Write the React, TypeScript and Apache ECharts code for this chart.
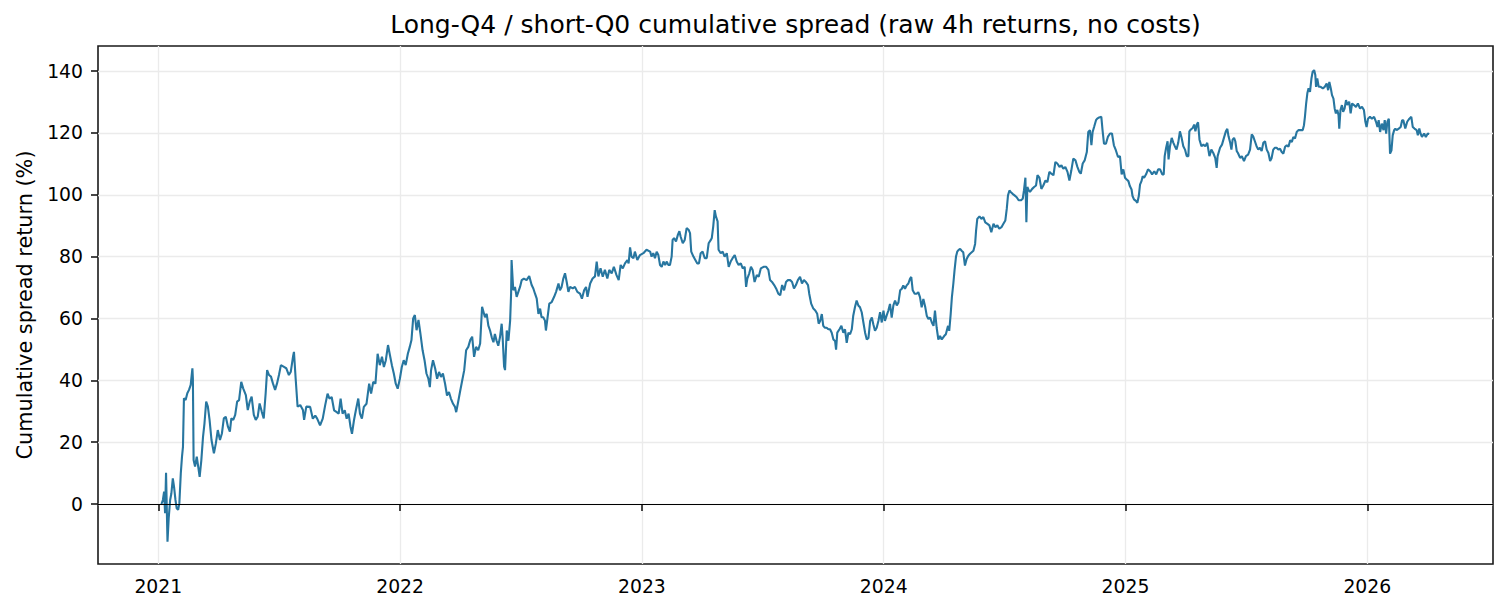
import React, { useEffect, useRef } from "react";
import * as echarts from "echarts";

const TITLE = "Long-Q4 / short-Q0 cumulative spread (raw 4h returns, no costs)";
const Y_NAME = "Cumulative spread return (%)";
const yearTicks = [2021, 2022, 2023, 2024, 2025, 2026];
const valueTicks = [0, 20, 40, 60, 80, 100, 120, 140];

// decimal year of each sampled point
const years = [
  2021.013, 2021.019, 2021.024, 2021.028, 2021.032, 2021.038, 2021.043, 2021.049, 2021.054, 2021.060,
  2021.065, 2021.071, 2021.076, 2021.082, 2021.087, 2021.093, 2021.098, 2021.102, 2021.106, 2021.113,
  2021.120, 2021.127, 2021.134, 2021.141, 2021.143, 2021.146, 2021.152, 2021.159, 2021.165, 2021.171,
  2021.178, 2021.185, 2021.191, 2021.198, 2021.205, 2021.212, 2021.220, 2021.230, 2021.238, 2021.246,
  2021.255, 2021.263, 2021.271, 2021.279, 2021.288, 2021.296, 2021.302, 2021.310, 2021.318, 2021.326,
  2021.334, 2021.343, 2021.351, 2021.362, 2021.370, 2021.378, 2021.386, 2021.395, 2021.403, 2021.411,
  2021.419, 2021.428, 2021.436, 2021.444, 2021.450, 2021.458, 2021.466, 2021.474, 2021.483, 2021.491,
  2021.499, 2021.507, 2021.518, 2021.529, 2021.540, 2021.548, 2021.557, 2021.561, 2021.568, 2021.576,
  2021.587, 2021.598, 2021.603, 2021.612,
  2021.628, 2021.639, 2021.649, 2021.657, 2021.669, 2021.680, 2021.690, 2021.700, 2021.708, 2021.717,
  2021.727, 2021.738, 2021.746, 2021.754, 2021.762, 2021.771, 2021.779, 2021.787, 2021.795, 2021.801,
  2021.809, 2021.817, 2021.827, 2021.834, 2021.842, 2021.850, 2021.861, 2021.872, 2021.880, 2021.889,
  2021.898, 2021.907, 2021.916, 2021.925, 2021.933, 2021.941, 2021.950, 2021.958, 2021.966, 2021.974,
  2021.982, 2021.990, 2021.999, 2022.007, 2022.015, 2022.023, 2022.032, 2022.040, 2022.047, 2022.054,
  2022.061, 2022.068, 2022.076, 2022.084, 2022.093, 2022.101, 2022.109, 2022.117, 2022.123, 2022.128,
  2022.136, 2022.145, 2022.153, 2022.161, 2022.169, 2022.177, 2022.186, 2022.194, 2022.202, 2022.210,
  2022.219, 2022.227, 2022.232, 2022.240, 2022.249, 2022.257, 2022.265, 2022.273, 2022.282, 2022.290,
  2022.298, 2022.306, 2022.314, 2022.323, 2022.331, 2022.339,
  2022.351, 2022.358, 2022.365, 2022.372, 2022.379, 2022.386, 2022.392, 2022.399, 2022.406, 2022.413,
  2022.420, 2022.424, 2022.430, 2022.434, 2022.441, 2022.448, 2022.455, 2022.459, 2022.461, 2022.464,
  2022.468, 2022.475, 2022.482, 2022.489, 2022.496, 2022.503, 2022.512, 2022.523, 2022.534, 2022.544,
  2022.551, 2022.558, 2022.565, 2022.572, 2022.579, 2022.585, 2022.592, 2022.599, 2022.603, 2022.610,
  2022.617, 2022.627, 2022.637, 2022.645, 2022.655, 2022.661, 2022.668, 2022.675, 2022.682, 2022.689,
  2022.696, 2022.703, 2022.714, 2022.723, 2022.733, 2022.744, 2022.752, 2022.761, 2022.769, 2022.775,
  2022.786, 2022.796, 2022.806, 2022.813, 2022.820, 2022.829, 2022.838, 2022.847, 2022.857, 2022.865,
  2022.875, 2022.884, 2022.895, 2022.904, 2022.912, 2022.921, 2022.930, 2022.940, 2022.945, 2022.951,
  2022.957, 2022.965, 2022.971, 2022.981, 2022.992, 2023.006, 2023.019,
  2023.034, 2023.040, 2023.047, 2023.054, 2023.061, 2023.068, 2023.075, 2023.082, 2023.089, 2023.096,
  2023.103, 2023.109, 2023.116, 2023.123, 2023.127, 2023.133, 2023.141, 2023.149, 2023.155, 2023.160,
  2023.169, 2023.177, 2023.185, 2023.193, 2023.199, 2023.204, 2023.213, 2023.221, 2023.229, 2023.236,
  2023.243, 2023.251, 2023.260, 2023.268, 2023.276, 2023.285, 2023.289, 2023.295, 2023.301, 2023.306,
  2023.313, 2023.317, 2023.326, 2023.334, 2023.342, 2023.351, 2023.359, 2023.367, 2023.375, 2023.384,
  2023.392, 2023.400, 2023.409, 2023.417, 2023.425, 2023.431, 2023.436, 2023.444, 2023.451, 2023.458,
  2023.466, 2023.475, 2023.483, 2023.492, 2023.503, 2023.514, 2023.523, 2023.530, 2023.538, 2023.547,
  2023.555, 2023.564, 2023.572, 2023.580, 2023.588, 2023.596, 2023.604, 2023.613, 2023.621, 2023.629,
  2023.637, 2023.645, 2023.654, 2023.662, 2023.670, 2023.678, 2023.687, 2023.692, 2023.700, 2023.709,
  2023.717, 2023.725, 2023.731,
  2023.737, 2023.744, 2023.750, 2023.757, 2023.764, 2023.771, 2023.778, 2023.785, 2023.792, 2023.799,
  2023.803, 2023.808, 2023.817, 2023.825, 2023.833, 2023.840, 2023.847, 2023.854, 2023.861, 2023.868,
  2023.874, 2023.881, 2023.888, 2023.895, 2023.902, 2023.909, 2023.916, 2023.923, 2023.930, 2023.937,
  2023.944, 2023.951, 2023.957, 2023.964, 2023.971, 2023.978, 2023.985, 2023.992, 2023.999, 2024.005,
  2024.012, 2024.019, 2024.026, 2024.033, 2024.040, 2024.047, 2024.054, 2024.061, 2024.068, 2024.075,
  2024.081, 2024.088, 2024.095, 2024.102, 2024.109, 2024.114, 2024.120, 2024.128, 2024.136, 2024.143,
  2024.150, 2024.157, 2024.164, 2024.172, 2024.178, 2024.185, 2024.192, 2024.199, 2024.206, 2024.212,
  2024.219, 2024.226, 2024.233, 2024.240, 2024.250, 2024.257, 2024.266, 2024.271, 2024.277, 2024.282,
  2024.288, 2024.293, 2024.299, 2024.304, 2024.310,
  2024.316, 2024.322, 2024.329, 2024.336, 2024.343, 2024.350, 2024.357, 2024.364, 2024.371, 2024.378,
  2024.382, 2024.387, 2024.396, 2024.404, 2024.412, 2024.420, 2024.429, 2024.437, 2024.445, 2024.454,
  2024.462, 2024.470, 2024.478, 2024.487, 2024.495, 2024.503, 2024.509, 2024.514, 2024.520, 2024.525,
  2024.533, 2024.541, 2024.550, 2024.558, 2024.567, 2024.575, 2024.580, 2024.586, 2024.590, 2024.594,
  2024.600, 2024.605, 2024.614, 2024.622, 2024.630, 2024.636, 2024.644, 2024.652, 2024.660, 2024.669,
  2024.677, 2024.685, 2024.693, 2024.702, 2024.710, 2024.718, 2024.727, 2024.735, 2024.743, 2024.751,
  2024.760, 2024.768, 2024.776, 2024.784, 2024.793, 2024.801, 2024.809, 2024.815, 2024.823, 2024.831,
  2024.840, 2024.846, 2024.853, 2024.859, 2024.864, 2024.870, 2024.878, 2024.883, 2024.891, 2024.900,
  2024.905, 2024.911, 2024.919, 2024.927, 2024.936, 2024.944, 2024.952, 2024.960, 2024.969,
  2024.977, 2024.984, 2024.991, 2024.998, 2025.005, 2025.012, 2025.018, 2025.025, 2025.029, 2025.035,
  2025.043, 2025.049, 2025.055, 2025.060, 2025.066, 2025.071, 2025.077, 2025.085, 2025.093, 2025.102,
  2025.110, 2025.119, 2025.127, 2025.135, 2025.143, 2025.152, 2025.158, 2025.162, 2025.168, 2025.174,
  2025.178, 2025.184, 2025.191, 2025.198, 2025.204, 2025.211, 2025.218, 2025.225, 2025.232, 2025.239,
  2025.246, 2025.253, 2025.260, 2025.264, 2025.270, 2025.278, 2025.284, 2025.289, 2025.295, 2025.300,
  2025.306, 2025.314, 2025.322, 2025.330, 2025.338, 2025.347, 2025.355, 2025.363, 2025.371, 2025.377,
  2025.381, 2025.391, 2025.399, 2025.407, 2025.415, 2025.421, 2025.426, 2025.433, 2025.438, 2025.443,
  2025.449, 2025.454, 2025.460, 2025.465, 2025.474, 2025.481, 2025.490, 2025.498, 2025.507, 2025.515,
  2025.522, 2025.528, 2025.535, 2025.542, 2025.549, 2025.556, 2025.563, 2025.570, 2025.577, 2025.584,
  2025.591, 2025.598, 2025.604, 2025.611, 2025.618, 2025.625, 2025.632,
  2025.639, 2025.646, 2025.653, 2025.660, 2025.667, 2025.674, 2025.681, 2025.688, 2025.694, 2025.701,
  2025.708, 2025.715, 2025.725, 2025.733, 2025.738, 2025.742, 2025.747, 2025.752, 2025.757, 2025.763,
  2025.769, 2025.774, 2025.780, 2025.785, 2025.788, 2025.793, 2025.799, 2025.807, 2025.816, 2025.824,
  2025.832, 2025.838, 2025.843, 2025.849, 2025.854, 2025.860, 2025.865, 2025.870, 2025.876, 2025.881,
  2025.884, 2025.889, 2025.895, 2025.900, 2025.906, 2025.912, 2025.917, 2025.925, 2025.931, 2025.937,
  2025.945, 2025.953, 2025.961, 2025.970, 2025.978, 2025.986, 2025.992, 2025.997, 2026.003, 2026.011,
  2026.019, 2026.028, 2026.036, 2026.042, 2026.047, 2026.053, 2026.060, 2026.067, 2026.072, 2026.078,
  2026.083, 2026.089, 2026.094, 2026.100, 2026.105, 2026.111, 2026.116, 2026.121, 2026.130, 2026.138,
  2026.144, 2026.149, 2026.157, 2026.165, 2026.174, 2026.182, 2026.188, 2026.195, 2026.204, 2026.209,
  2026.215, 2026.220, 2026.226, 2026.235, 2026.242, 2026.250, 2026.256,
];

// cumulative spread return (%) at each point
const spread = [
  0, 1.3, 4, -3, 10.1, -12.2, -4.6, 1.3, 3.4, 8.3,
  5.6, 1.3, -1.4, -1.9, 0.2, 9.9, 15.3, 18.5, 34.2, 33.6,
  35.8, 36.9, 38.5, 43.9, 40.6, 14.2, 12.1, 15.3, 12.1, 8.8,
  14.2, 21.8, 26.1, 33.1, 31.5, 27.2, 20.7, 16.4, 19.6, 23.9,
  20.7, 22.8, 27.7, 28.2, 25, 23.4, 27.7, 27.2, 28.8, 33.1,
  33.6, 39.5, 37.4, 35.2, 30.4, 33.1, 34.7, 28.8, 27.2, 28.2,
  32.5, 29.8, 27.7, 35.8, 43.3, 41.7, 41.2, 39, 36.9, 39,
  41.7, 44.9, 44.4, 43.9, 41.7, 42.8, 47.6, 49.2, 40.6, 31.5,
  32, 30.4, 27.2, 31.5,
  31.4, 27.6, 28.6, 27.6, 25.4, 27.6, 31.9, 35.7, 34.1, 34.6,
  30.3, 29.7, 29.2, 34.1, 29.2, 30.3, 27.6, 29.2, 24.9, 22.7,
  27, 30.3, 34.1, 29.2, 27.6, 31.4, 32.4, 38.9, 35.7, 39.5,
  38.9, 48.6, 44.9, 47.6, 44.3, 46.5, 51.4, 48.1, 44.9, 42.2,
  38.9, 37.3, 40.5, 44.3, 46.5, 44.9, 48.6, 50.8, 53, 60,
  61.1, 56.2, 59.5, 55.1, 49.7, 46.5, 42.2, 40.5, 37.8, 43.2,
  46.5, 43.8, 40.5, 42.7, 41.1, 42.2, 38.9, 35.1, 36.2, 34.1,
  32.4, 31.4, 29.7, 33, 36.8, 40, 43.2, 49.7, 50.8, 53,
  54.1, 47.6, 50.8, 49.7, 51.9, 63.8,
  60.4, 61.5, 57.7, 56.1, 53.9, 52.3, 55, 52.8, 51.2, 53.9,
  58.3, 53.9, 44.5, 43.3, 56.1, 52.8, 59.3, 68, 78.9, 74.6,
  69.1, 70.2, 67, 68.6, 70.2, 72.4, 72.9, 72.4, 73.7, 70.8,
  69.7, 68, 66.4, 61.5, 63.2, 60.4, 60.4, 59.3, 56.1, 60.4,
  64.8, 65.3, 67, 68.6, 71.3, 69.1, 70.2, 72.9, 74.6, 71.8,
  68.6, 70.2, 69.7, 70.2, 68.6, 68, 66.4, 69.1, 70.2, 67,
  71.3, 72.9, 73.6, 78.4, 73.6, 76.2, 73.5, 75.7, 72.9, 75.7,
  74.6, 76.7, 74, 72.4, 77.3, 76.2, 77.8, 78.9, 77.8, 83,
  80, 79.5, 81.6, 78.9, 80.5, 81.1, 82.2,
  81.6, 80, 81.1, 79.5, 81.6, 80.5, 77.3, 76.7, 78.4, 77.3,
  78.4, 77.3, 77.3, 80, 85.4, 86, 84.9, 87.1, 88.2, 86.5,
  84.3, 85.4, 89.2, 88.7, 87.6, 81.6, 80, 78.9, 77.8, 77.8,
  81.1, 81.6, 79.5, 79.5, 84.3, 85.4, 86, 89.8, 95, 93,
  91.4, 82.2, 81.1, 81.6, 80, 81.1, 76.7, 78.4, 79.5, 80.5,
  78.4, 77.3, 77.8, 76.2, 76.7, 70.2, 72.9, 74.6, 76.7, 75.7,
  71.8, 74, 73.5, 76.2, 76.7, 76.7, 75.7, 72.4, 71.8, 70.8,
  69.7, 68, 67.5, 70.8, 69.1, 71.8, 72.4, 72.4, 71.8, 69.7,
  70.8, 72.4, 73.5, 71.3, 72.4, 71.8, 70.8, 68, 64.8, 63.2,
  62.6, 61.5, 58.3,
  59.2, 61.4, 57.6, 57, 57, 56.5, 56.5, 55.4, 53.2, 52.7,
  49.9, 55.4, 56.5, 57.6, 55.4, 56.5, 52.1, 55.4, 54.9, 56.5,
  60.9, 63.6, 65.8, 64.2, 63.6, 62, 58.7, 55.4, 53.2, 53.7,
  59.2, 60.3, 58.1, 56, 57, 59.2, 62, 58.7, 62.5, 59.2,
  60.9, 62.5, 64.7, 60.3, 64.2, 65.8, 64.2, 65.2, 69.1, 69.6,
  70.7, 69.6, 70.7, 71.3, 72.9, 73.4, 69.1, 68, 68, 68.5,
  66.9, 63.6, 66.3, 63.6, 60.9, 59.8, 60.3, 58.7, 57.6, 62.5,
  57, 53.2, 54.3, 53.2, 54.3, 54.9, 57.6, 56, 61.4, 66.9,
  71.3, 75.6, 80, 81.6, 82.2,
  82.5, 81.9, 81.4, 77.1, 79.2, 80.3, 80.9, 81.4, 81.9, 84.1,
  88.4, 92.2, 93, 92.2, 92.8, 91.1, 90.6, 90.1, 87.9, 90.6,
  89.5, 90.1, 89, 89.5, 90.6, 91.7, 95.5, 99.8, 101.4, 100.9,
  100.3, 99.8, 99.2, 98.2, 98.2, 98.7, 101.4, 105.5, 91.1, 102.5,
  101.4, 100.9, 101.9, 102.5, 103, 106.3, 105.5, 101.9, 103, 104.6,
  104.1, 107.4, 106.8, 106.3, 110.6, 110.1, 109, 109.5, 108.4, 109,
  107.4, 104.6, 107.9, 111.7, 111.1, 109, 107.4, 106.8, 110.1, 111.1,
  113.8, 120.3, 120.9, 116, 120.3, 121.9, 124.1, 124.6, 125, 125.2,
  120.9, 116.5, 116.5, 118.7, 119.8, 119.8, 116, 114.4, 112.2,
  112.5, 106.6, 108.2, 105.5, 104.9, 104.4, 102.8, 101.7, 99.6, 98.5,
  98, 97.4, 99.6, 103.3, 104.4, 106, 105.5, 106.6, 108.2, 107.6,
  106.6, 107.6, 106.6, 108.2, 108.2, 106.6, 106.6, 112.5, 115.2, 117.3,
  111.4, 115.7, 118.4, 116.8, 115.7, 114.6, 116.8, 120.5, 118.4, 115.7,
  114.6, 112.5, 112.5, 120.5, 121.1, 121.6, 122.7, 120.5, 122.7, 123.4,
  117.8, 115.7, 116.2, 115.7, 116.8, 112.5, 114.6, 113.5, 111.9, 108.7,
  112.5, 115.2, 116.2, 118.4, 120.5, 121.3, 118.9, 116.8, 114.6, 117.8,
  118.4, 117.3, 114.1, 113.5, 111.9, 112.5, 110.9, 112.5, 113, 114.6,
  119.5, 118.9, 117.3, 115.7, 114.6, 115.2, 114.1, 116.8, 117.3, 114.6,
  113.5, 110.9, 111.8, 114.6, 115.2, 115.2, 114.6,
  114.9, 113.8, 113.3, 115.5, 116, 115.5, 117.6, 117.1, 118.7, 118.2,
  120.3, 120.9, 120.9, 120.9, 122.5, 125.2, 129.5, 132.8, 134.4, 133.3,
  137.6, 139.8, 140.3, 138.7, 134.9, 137.6, 134.9, 134.9, 134.4, 134.9,
  136, 133.8, 136.5, 134.4, 132.2, 131.1, 127.9, 126.3, 127.4, 125.7,
  121.4, 127.4, 129, 126.8, 127.9, 130.6, 129, 130.1, 126.3, 129.5,
  129, 128.4, 129.5, 127.9, 128.4, 127.4, 123.6, 121.9, 124.6, 125.2,
  124.6, 125.2, 123.6, 121.9, 124.1, 120.3, 123, 120.9, 124.1, 119.8,
  123.6, 124.6, 113.3, 114.4, 119.2, 120.9, 121.4, 120.9, 121.4, 121.9,
  124.1, 124.1, 121.4, 123.6, 124.6, 125.2, 121.9, 121.4, 120.9, 119.2,
  121.4, 119.8, 118.7, 119.8, 118.7, 119.8, 119.6,
];

const FONT = "'DejaVu Sans', sans-serif";

export default function App() {
  const ref = useRef<HTMLDivElement>(null);

  useEffect(() => {
    if (!ref.current) return;
    const chart = echarts.init(ref.current, null, { renderer: "svg" });
    const n = Math.min(years.length, spread.length);
    const data: [number, number][] = [];
    for (let i = 0; i < n; i++) data.push([years[i], spread[i]]);

    chart.setOption({
      animation: false,
      backgroundColor: "#ffffff",
      textStyle: { fontFamily: FONT },
      title: {
        text: TITLE,
        left: 795.5,
        top: 12,
        padding: 0,
        textAlign: "center",
        textStyle: { fontFamily: FONT, fontSize: 25, fontWeight: "normal", color: "#000" },
      },
      grid: {
        left: 98,
        right: 14,
        top: 46,
        bottom: 51,
        show: true,
        borderColor: "#1a1a1a",
        borderWidth: 1.6,
        backgroundColor: "transparent",
        containLabel: false,
      },
      xAxis: {
        type: "value",
        min: 2020.7506,
        max: 2026.5198,
        axisLine: { show: false },
        axisTick: {
          show: true,
          inside: false,
          length: 7,
          customValues: yearTicks,
          lineStyle: { color: "#1a1a1a", width: 1.6 },
        },
        axisLabel: {
          customValues: yearTicks,
          margin: 13,
          color: "#000",
          fontFamily: FONT,
          fontSize: 18.8,
          formatter: (v: number) => String(Math.round(v)),
        },
        splitLine: { show: true, lineStyle: { color: "#ebebeb", width: 1.3 } },
      },
      yAxis: {
        type: "value",
        min: -19.4,
        max: 148.1,
        splitNumber: 8,
        name: Y_NAME,
        nameLocation: "middle",
        nameGap: 63,
        nameTextStyle: { fontFamily: FONT, fontSize: 20.8, color: "#000" },
        axisLine: { show: false },
        axisTick: {
          show: true,
          inside: false,
          length: 7,
          customValues: valueTicks,
          lineStyle: { color: "#1a1a1a", width: 1.6 },
        },
        axisLabel: {
          customValues: valueTicks,
          margin: 15,
          color: "#000",
          fontFamily: FONT,
          fontSize: 18.8,
          formatter: (v: number) => String(Math.round(v)),
        },
        splitLine: { show: true, lineStyle: { color: "#ebebeb", width: 1.3 } },
      },
      series: [
        {
          type: "line",
          data,
          showSymbol: false,
          symbol: "none",
          lineStyle: { color: "#2776a0", width: 2.1 },
          itemStyle: { color: "#2776a0" },
          clip: true,
          z: 3,
          markLine: {
            silent: true,
            symbol: ["none", "none"],
            label: { show: false },
            lineStyle: { color: "#000000", width: 1.2, type: "solid" },
            data: [{ yAxis: 0 }],
            z: 4,
          },
        },
      ],
    });

    return () => chart.dispose();
  }, []);

  return (
    <div
      ref={ref}
      style={{ position: "fixed", left: 0, top: 0, width: 1507, height: 615, background: "#fff" }}
    />
  );
}
